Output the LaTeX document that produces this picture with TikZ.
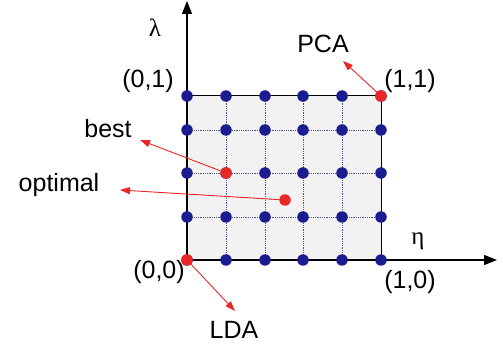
\documentclass[tikz,border=0pt]{standalone}
\usepackage{fontspec}
\setmainfont{Liberation Sans}
\newfontfamily\greekfont{Liberation Serif}
\usepackage{xcolor}
\usetikzlibrary{positioning, arrows.meta}

\definecolor{dotblue}{RGB}{28,28,145}
\definecolor{hotred}{RGB}{235,38,38}

\begin{document}
\begin{tikzpicture}[
  x=1pt, y=-1pt,
  font=\fontsize{25}{29}\selectfont,
  dot/.style={circle, fill=dotblue, minimum size=11.5pt, inner sep=0pt},
  hot/.style={dot, fill=hotred},
  lbl/.style={anchor=base, inner sep=0pt},
  gridline/.style={densely dotted, draw=dotblue!40!gray, line width=0.8pt},
  axis/.style={line width=1.3pt, -{Triangle[length=13pt,width=10pt]}},
  pointer/.style={hotred, line width=0.9pt, -{Triangle[length=10pt,width=7pt]}},
]
  \useasboundingbox (0,0) rectangle (503,347);

  % square
  \coordinate (o)  at (187,260);
  \coordinate (c11) at (381,96);
  \fill[gray!10] (o) rectangle (c11);

  % grid points
  \foreach \i/\x in {0/187,1/226,2/265,3/303,4/342,5/381}
    \foreach \j/\y in {0/260,1/217,2/173,3/130,4/96}
      \coordinate (p\i\j) at (\x,\y);

  \foreach \i in {1,...,4}
    \draw[gridline] (p\i0) -- (p\i4);
  \foreach \j in {1,2,3}
    \draw[gridline] (p0\j) -- (p5\j);
  \draw[line width=1pt] (o) rectangle (c11);

  % axes
  \coordinate (ytop) at (187,1);
  \coordinate (xend) at (497,260);
  \draw[axis] (o) -- (ytop);
  \draw[axis] (o) -- (xend);
  \node[lbl] (lam) at (155,37) {\greekfont λ};
  \node[lbl] (eta) at (418,245) {\greekfont η};

  \foreach \i in {0,...,5}
    \foreach \j in {0,...,4}
      \node[dot] (d\i\j) at (p\i\j) {};

  \node[hot] (lda0) at (p00) {};
  \node[hot] (pca0) at (p54) {};
  \node[hot] (best0) at (p12) {};
  \node[hot] (opt0) at (285,200) {};

  % corner labels
  \node[lbl] (l01) at (148,88)  {(0,1)};
  \node[lbl] (l11) at (410,88)  {(1,1)};
  \node[lbl] (l00) at (159,279) {(0,0)};
  \node[lbl] (l10) at (410,288) {(1,0)};

  \node[lbl] (pca)  at (323,53)  {PCA};
  \node[lbl] (lda)  at (234,338) {LDA};
  \node[lbl] (best) at (108,138) {best};
  \node[lbl] (opt)  at (59,192)  {optimal};

  \coordinate (pcatip)  at (343,61);
  \coordinate (ldatip)  at (235,311);
  \coordinate (besttip) at (140,140);
  \coordinate (opttip)  at (120,190);

  \draw[pointer] (pca0)  -- (pcatip);
  \draw[pointer] (lda0)  -- (ldatip);
  \draw[pointer] (best0) -- (besttip);
  \draw[pointer] (opt0)  -- (opttip);
\end{tikzpicture}
\end{document}
